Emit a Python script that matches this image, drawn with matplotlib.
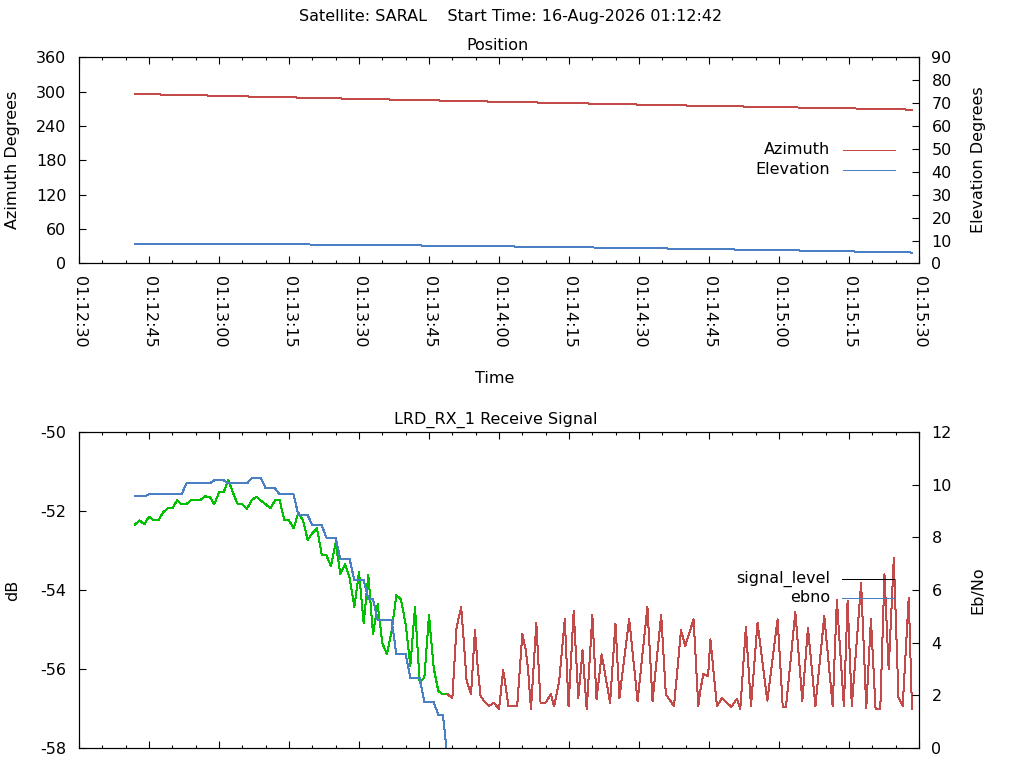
import numpy as np
import matplotlib
matplotlib.use("Agg")
import matplotlib.pyplot as plt
import matplotlib.dates as mdates

# pass info
satellite = "SARAL"
start_txt = "16-Aug-2026 01:12:42"
START = np.datetime64("2026-08-16T01:12:42")
X_FROM = np.datetime64("2026-08-16T01:12:30")
X_TO = np.datetime64("2026-08-16T01:15:30")

# position (seconds after start time)
az_sec = [0, 5.6, 15.4, 24.5, 34.6, 44.5, 54.6, 65.5, 75.5, 86, 97.3, 107.3,
          118.3, 130.2, 142.2, 154.3, 166.5]
az_deg = [296.3, 295.3, 293.6, 291.8, 290.1, 288.3, 286.6, 284.8, 283.1, 281.4,
          279.6, 277.9, 276.1, 274.4, 272.6, 270.9, 268.9]
el_sec = [0, 37.6, 61.5, 81.1, 98.3, 114.2, 128.3, 142.3, 154.3, 166.1, 166.5]
el_deg = [8.6, 8.30, 7.86, 7.43, 6.99, 6.55, 6.12, 5.68, 5.24, 4.81, 4.75]

# receive signal, 1 s samples while locked (green part)
sig_sec = list(range(0, 68))
sig_db = [-52.34, -52.24, -52.34, -52.14, -52.24, -52.24, -52.04, -51.93, -51.93, -51.73,
          -51.83, -51.83, -51.72, -51.72, -51.72, -51.63, -51.64, -51.83, -51.53, -51.52,
          -51.22, -51.54, -51.83, -51.83, -51.94, -51.73, -51.64, -51.74, -51.83, -51.93,
          -51.73, -51.73, -52.23, -52.24, -52.44, -52.04, -52.24, -52.73, -52.56, -52.44,
          -53.10, -53.12, -53.40, -52.80, -53.60, -53.35, -53.70, -54.43, -53.54, -54.84,
          -53.62, -55.12, -54.36, -55.35, -55.63, -55.04, -54.13, -54.24, -54.87, -55.92,
          -54.43, -56.35, -56.22, -54.64, -55.97, -56.56, -56.64, -56.64]
ebno = [9.56, 9.56, 9.56, 9.63, 9.63, 9.63, 9.63, 9.63, 9.63, 9.63,
        9.63, 10.05, 10.05, 10.05, 10.05, 10.05, 10.05, 10.17, 10.17, 10.17,
        10.05, 10.05, 10.05, 10.05, 10.05, 10.24, 10.24, 10.24, 9.86, 9.86,
        9.86, 9.63, 9.63, 9.63, 9.63, 8.84, 8.84, 8.84, 8.47, 8.47,
        8.47, 7.99, 7.99, 7.99, 7.17, 7.17, 7.17, 6.37, 6.37, 6.37,
        5.65, 5.65, 4.86, 4.86, 4.86, 4.86, 3.56, 3.56, 3.56, 2.67,
        2.67, 2.67, 1.75, 1.75, 1.75, 1.25, 1.25, -0.5]

# signal after lock loss (red part)
lost_sec = [67.0, 68.0, 68.9, 69.9, 70.5, 71.05, 72.0, 72.85, 73.5, 74.05, 74.8, 75.85,
            76.9, 78.0, 78.9, 79.8, 80.0, 81.9, 83.0, 83.7, 84.2, 84.85, 86.0, 86.9,
            88.0, 89.1, 89.8, 90.9, 92.1, 92.9, 94.0, 95.0, 95.9, 96.8, 98.0, 98.9,
            100.0, 101.8, 102.95, 103.8, 105.9, 107.7, 109.8, 110.9, 112.75, 113.75,
            114.5, 115.5, 117.0, 117.9, 119.7, 120.7, 121.1, 121.8, 122.8, 123.3, 124.7,
            125.8, 127.8, 129.0, 129.7, 130.9, 132.0, 133.4, 135.5, 137.7, 138.8, 139.5,
            141.5, 143.0, 144.2, 145.8, 147.7, 149.5, 150.4, 151.9, 152.7, 153.6, 155.6,
            156.7, 157.7, 158.7, 159.7, 160.6, 161.5, 162.6, 163.6, 164.5, 165.8, 166.5]
lost_db = [-56.64, -56.74, -54.95, -54.43, -55.38, -56.29, -56.64, -55.02, -56.05, -56.68,
           -56.81, -56.94, -56.85, -57.02, -56.03, -56.74, -56.94, -56.94, -55.12, -55.50,
           -55.97, -57.02, -54.84, -56.85, -56.85, -56.64, -56.94, -56.30, -54.74, -56.94,
           -54.53, -56.73, -55.53, -57.02, -54.64, -56.77, -55.63, -56.85, -54.85, -56.73,
           -54.74, -56.81, -54.43, -56.81, -54.62, -56.64, -56.77, -56.94, -55.02, -55.42,
           -54.74, -56.94, -56.56, -56.13, -56.18, -55.25, -56.94, -56.74, -56.96, -56.75,
           -57.02, -54.94, -56.94, -54.83, -56.80, -54.74, -56.96, -56.96, -54.56, -56.81,
           -54.95, -56.94, -54.66, -56.94, -54.26, -56.94, -54.28, -56.94, -53.83, -56.98,
           -54.74, -57.02, -57.02, -53.60, -56.01, -53.20, -56.73, -56.94, -54.19, -57.02]

RED = "#c44a4a"
BLUE = "#4a7fc4"
GREEN = "#00c000"
FS = 11.5
LW = 0.72  # one pixel at 100 dpi

plt.rcParams["axes.unicode_minus"] = False


def stamp(secs):
    ms = np.round(np.asarray(secs, dtype=float) * 1000).astype("int64")
    return START + ms.astype("timedelta64[ms]")


def style_axes(ax):
    for s in ax.spines.values():
        s.set_linewidth(0.8)
    ax.set_xlim(X_FROM, X_TO)
    ax.xaxis.set_major_locator(mdates.SecondLocator(bysecond=[0, 15, 30, 45]))
    ax.xaxis.set_minor_locator(mdates.SecondLocator(bysecond=range(0, 60, 5)))
    ax.xaxis.set_major_formatter(mdates.DateFormatter("%H:%M:%S"))
    ax.tick_params(axis="both", which="both", direction="in", labelsize=FS, width=0.8)
    ax.tick_params(axis="x", which="major", length=5, top=True)
    ax.tick_params(axis="x", which="minor", length=2.5, top=True)
    ax.tick_params(axis="y", which="major", length=5, right=False, pad=9)


def fig_px(x, y):
    return x / 1024, 1 - y / 768


fig = plt.figure(figsize=(10.24, 7.68), dpi=100)

# ---- Position panel
ax1 = fig.add_axes([79 / 1024, 1 - 263.5 / 768, 840 / 1024, 206 / 768])
style_axes(ax1)
ax1.plot(stamp(az_sec), az_deg, color=RED, lw=LW, antialiased=False)
ax1.set_ylim(0, 360)
ax1.set_yticks(range(0, 361, 60))
ax1.tick_params(axis="x", labelrotation=-90, pad=9)

ax1r = ax1.twinx()
ax1r.plot(stamp(el_sec), el_deg, color=BLUE, lw=LW, antialiased=False)
ax1r.set_ylim(0, 90)
ax1r.set_yticks(range(0, 91, 10))
ax1r.tick_params(axis="y", direction="in", length=5, width=0.8, labelsize=FS, pad=9)
for s in ax1r.spines.values():
    s.set_linewidth(0.8)

for i, (lab, col) in enumerate([("Azimuth", RED), ("Elevation", BLUE)]):
    yy = 0.551 - i * 0.097
    ax1.text(0.894, yy, lab, transform=ax1.transAxes, ha="right", va="center", fontsize=FS)
    ax1.plot([0.9095, 0.9714], [yy, yy], transform=ax1.transAxes, color=col,
             lw=LW, antialiased=False)

# ---- Receive signal panel
ax2 = fig.add_axes([79 / 1024, 1 - 748 / 768, 840 / 1024, 316 / 768])
style_axes(ax2)
ax2.plot(stamp(sig_sec), sig_db, color=GREEN, lw=LW, antialiased=False)
ax2.plot(stamp(lost_sec), lost_db, color=RED, lw=LW, antialiased=False)
ax2.set_ylim(-58, -50)
ax2.set_yticks(range(-58, -49, 2))
ax2.tick_params(axis="x", labelbottom=False)

ax2r = ax2.twinx()
ax2r.plot(stamp(sig_sec), ebno, color=BLUE, lw=LW, antialiased=False)
ax2r.set_ylim(0, 12)
ax2r.set_yticks(range(0, 13, 2))
ax2r.tick_params(axis="y", direction="in", length=5, width=0.8, labelsize=FS, pad=9)
for s in ax2r.spines.values():
    s.set_linewidth(0.8)

for i, (lab, col) in enumerate([("signal_level", "black"), ("ebno", BLUE)]):
    yy = 0.535 - i * 0.06
    ax2.text(0.894, yy, lab, transform=ax2.transAxes, ha="right", va="center", fontsize=FS)
    ax2.plot([0.9083, 0.9702], [yy, yy], transform=ax2.transAxes, color=col,
             lw=LW, antialiased=False)

# ---- titles and axis labels
fig.text(*fig_px(511, 17), f"Satellite: {satellite}    Start Time: {start_txt}",
         ha="center", va="center", fontsize=FS)
fig.text(*fig_px(497, 46), "Position", ha="center", va="center", fontsize=FS)
fig.text(*fig_px(495, 379), "Time", ha="center", va="center", fontsize=FS)
fig.text(*fig_px(496, 420), "LRD_RX_1 Receive Signal", ha="center", va="center", fontsize=FS)
fig.text(*fig_px(13, 160), "Azimuth Degrees", rotation=90, ha="center", va="center", fontsize=FS)
fig.text(*fig_px(978, 160), "Elevation Degrees", rotation=90, ha="center", va="center", fontsize=FS)
fig.text(*fig_px(13, 590), "dB", rotation=90, ha="center", va="center", fontsize=FS)
fig.text(*fig_px(978, 590), "Eb/No", rotation=90, ha="center", va="center", fontsize=FS)

fig.savefig("out.png", dpi=100)
